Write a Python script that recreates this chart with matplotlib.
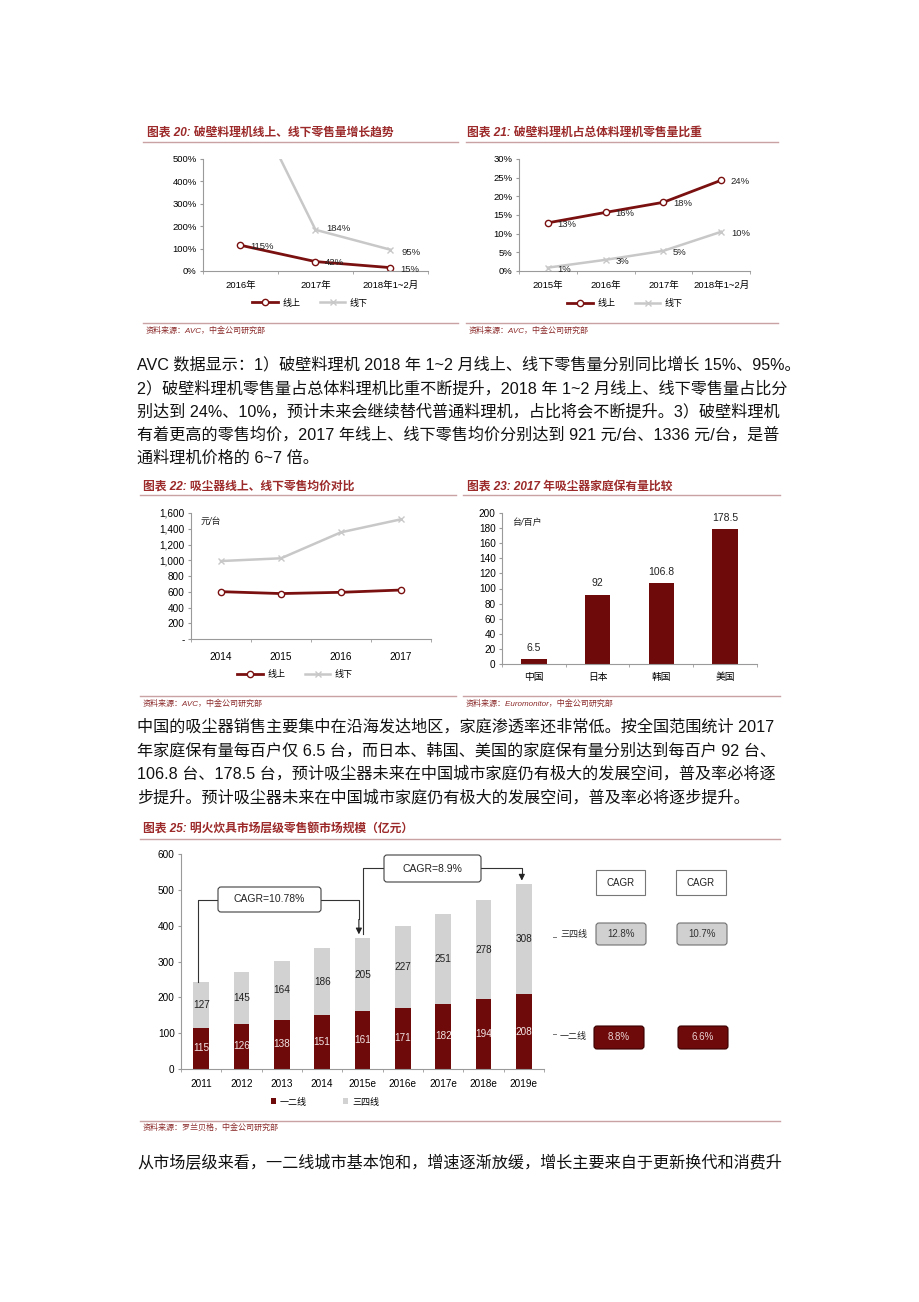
import matplotlib
matplotlib.use('Agg')
import matplotlib.pyplot as plt
import numpy as np
from matplotlib.patches import FancyBboxPatch, Rectangle
from matplotlib.ticker import FuncFormatter

plt.rcParams['font.family'] = ['Liberation Sans', 'Noto Sans CJK SC']

# ---- data ----
c20_cats = ['2016年', '2017年', '2018年1~2月']
c20_online = [115, 42, 15]
c20_offline = [860, 184, 95]

c21_cats = ['2015年', '2016年', '2017年', '2018年1~2月']
c21_online = [12.9, 15.7, 18.4, 24.3]
c21_offline = [0.9, 3.0, 5.4, 10.5]
c21_online_lbl = ['13%', '16%', '18%', '24%']
c21_offline_lbl = ['1%', '3%', '5%', '10%']

c22_years = ['2014', '2015', '2016', '2017']
c22_online = [601, 577, 593, 622]
c22_offline = [990, 1025, 1355, 1520]

c23_countries = ['中国', '日本', '韩国', '美国']
c23_values = [6.5, 92, 106.8, 178.5]

c25_years = ['2011', '2012', '2013', '2014', '2015e', '2016e', '2017e', '2018e', '2019e']
c25_tier12 = [115, 126, 138, 151, 161, 171, 182, 194, 208]
c25_tier34 = [127, 145, 164, 186, 205, 227, 251, 278, 308]
cagr_cols = ['CAGR', 'CAGR']
cagr_34 = ['12.8%', '10.7%']
cagr_12 = ['8.8%', '6.6%']

para1 = [
    'AVC 数据显示：1）破壁料理机 2018 年 1~2 月线上、线下零售量分别同比增长 15%、95%。',
    '2）破壁料理机零售量占总体料理机比重不断提升，2018 年 1~2 月线上、线下零售量占比分',
    '别达到 24%、10%，预计未来会继续替代普通料理机，占比将会不断提升。3）破壁料理机',
    '有着更高的零售均价，2017 年线上、线下零售均价分别达到 921 元/台、1336 元/台，是普',
    '通料理机价格的 6~7 倍。',
]
para2 = [
    '中国的吸尘器销售主要集中在沿海发达地区，家庭渗透率还非常低。按全国范围统计 2017',
    '年家庭保有量每百户仅 6.5 台，而日本、韩国、美国的家庭保有量分别达到每百户 92 台、',
    '106.8 台、178.5 台，预计吸尘器未来在中国城市家庭仍有极大的发展空间，普及率必将逐',
    '步提升。预计吸尘器未来在中国城市家庭仍有极大的发展空间，普及率必将逐步提升。',
]
para3 = ['从市场层级来看，一二线城市基本饱和，增速逐渐放缓，增长主要来自于更新换代和消费升']

RED = '#6E0A0A'
LINE_RED = '#7A1010'
GRAY = '#C8C8C8'
TITLE = '#9C2A2A'
RULE = '#C9A3A3'
AX = '#9A9A9A'

W, H = 920, 1302
fig = plt.figure(figsize=(W / 100, H / 100), dpi=100)


def add_ax(x0, y0, x1, y1):
    return fig.add_axes([x0 / W, 1 - y1 / H, (x1 - x0) / W, (y1 - y0) / H])


def style_ax(ax, n):
    for s in ['top', 'right']:
        ax.spines[s].set_visible(False)
    for s in ['left', 'bottom']:
        ax.spines[s].set_color(AX)
        ax.spines[s].set_linewidth(0.8)
    ax.set_xlim(-0.5, n - 0.5)
    ax.set_xticks(range(n))
    ax.set_xticks(np.arange(-0.5, n), minor=True)
    ax.tick_params(axis='y', length=2.5, color=AX, labelsize=6.8, pad=2)
    ax.tick_params(axis='x', which='major', length=0, labelsize=6.8, pad=7)
    ax.tick_params(axis='x', which='minor', length=2.5, color=AX)


def line_pair(ax, online, offline):
    x = range(len(online))
    ax.plot(x, offline, color=GRAY, lw=1.8, marker='x', ms=4, mew=1, label='线下')
    ax.plot(x, online, color=LINE_RED, lw=2, marker='o', ms=4.5, mfc='white',
            mec=LINE_RED, mew=1, label='线上')


def legend_at(ax, cx, cy):
    h, l = ax.get_legend_handles_labels()
    ax.legend(h[::-1], l[::-1], loc='center', bbox_to_anchor=(cx / W, 1 - cy / H),
              bbox_transform=fig.transFigure, ncol=2, frameon=False, fontsize=6.5,
              handlelength=2.8, columnspacing=2.2, handletextpad=0.5)


# ---- chart 20 ----
ax = add_ax(203, 159, 428, 271)
style_ax(ax, 3)
line_pair(ax, c20_online, c20_offline)
ax.set_ylim(0, 500)
ax.set_yticks(range(0, 501, 100))
ax.yaxis.set_major_formatter(FuncFormatter(lambda v, p: f'{v:.0f}%'))
ax.set_xticklabels(c20_cats)
for i, v in enumerate(c20_online):
    ax.annotate(f'{v}%', (i, v), xytext=(7, -1), textcoords='offset points',
                fontsize=6.8, va='center', color='#222')
for i, v in enumerate(c20_offline):
    if v <= 500:
        ax.annotate(f'{v}%', (i, v), xytext=(8, 1 if i == 1 else -2), textcoords='offset points',
                    fontsize=6.8, va='center', color='#222')
legend_at(ax, 310, 303)

# ---- chart 21 ----
ax = add_ax(519, 159, 750, 271)
style_ax(ax, 4)
line_pair(ax, c21_online, c21_offline)
ax.set_ylim(0, 30)
ax.set_yticks(range(0, 31, 5))
ax.yaxis.set_major_formatter(FuncFormatter(lambda v, p: f'{v:.0f}%'))
ax.set_xticklabels(c21_cats)
for i, (v, s) in enumerate(zip(c21_online, c21_online_lbl)):
    ax.annotate(s, (i, v), xytext=(7, -1), textcoords='offset points', fontsize=6.8, va='center', color='#222')
for i, (v, s) in enumerate(zip(c21_offline, c21_offline_lbl)):
    ax.annotate(s, (i, v), xytext=(7, -1.5), textcoords='offset points', fontsize=6.8, va='center', color='#222')
legend_at(ax, 625, 304)

# ---- chart 22 ----
ax = add_ax(191, 513, 431, 639)
style_ax(ax, 4)
line_pair(ax, c22_online, c22_offline)
ax.set_ylim(0, 1600)
ax.set_yticks(range(0, 1601, 200))
ax.yaxis.set_major_formatter(FuncFormatter(lambda v, p: '-' if v == 0 else f'{v:,.0f}'))
ax.tick_params(axis='y', labelsize=7.2)
ax.tick_params(axis='x', which='major', labelsize=7.2, pad=9)
ax.set_xticklabels(c22_years)
ax.text(0.04, 0.97, '元/台', transform=ax.transAxes, fontsize=6.5, style='italic', va='top', color='#222')
legend_at(ax, 295, 675)

# ---- chart 23 ----
ax = add_ax(502, 513, 757, 664)
style_ax(ax, 4)
ax.bar(range(4), c23_values, width=0.4, color=RED)
ax.set_ylim(0, 200)
ax.set_yticks(range(0, 201, 20))
ax.tick_params(axis='y', labelsize=7.2)
ax.tick_params(axis='x', which='major', labelsize=7, pad=6)
ax.set_xticklabels(c23_countries)
for i, v in enumerate(c23_values):
    ax.annotate(f'{v:g}', (i, v), xytext=(0, 8), textcoords='offset points', ha='center',
                va='center', fontsize=7.5, color='#222')
ax.text(0.04, 0.97, '台/百户', transform=ax.transAxes, fontsize=6.5, style='italic', va='top', color='#222')

# ---- chart 25 ----
ax = add_ax(181, 854, 544, 1069)
style_ax(ax, 9)
x = np.arange(9)
ax.bar(x, c25_tier12, width=0.39, color=RED, label='一二线')
ax.bar(x, c25_tier34, width=0.39, bottom=c25_tier12, color='#D2D2D2', label='三四线')
ax.set_ylim(0, 600)
ax.set_yticks(range(0, 601, 100))
ax.tick_params(axis='y', labelsize=7.2)
ax.tick_params(axis='x', which='major', labelsize=7.2, pad=7)
ax.set_xticklabels(c25_years)
for i in x:
    a, b = c25_tier12[i], c25_tier34[i]
    ax.text(i, a / 2, str(a), ha='center', va='center', fontsize=7.2, color='#F2E4E4')
    ax.text(i, a + b / 2, str(b), ha='center', va='center', fontsize=7.2, color='#222')
tops = [a + b for a, b in zip(c25_tier12, c25_tier34)]
ax.plot([-0.08, -0.08, 3.91, 3.91], [tops[0], 473, 473, 420], color='#333', lw=0.8, clip_on=False)
ax.annotate('', xy=(3.91, tops[4] + 2), xytext=(3.91, 425),
            arrowprops=dict(arrowstyle='-|>', color='#222', lw=0.8, mutation_scale=9))
ax.plot([4.02, 4.02, 7.95, 7.95], [tops[4] + 10, 560, 560, 540], color='#333', lw=0.8, clip_on=False)
ax.annotate('', xy=(7.95, tops[8] + 2), xytext=(7.95, 545),
            arrowprops=dict(arrowstyle='-|>', color='#222', lw=0.8, mutation_scale=9), annotation_clip=False)
ax.legend(loc='center', bbox_to_anchor=(325 / W, 1 - 1102 / H), bbox_transform=fig.transFigure,
          ncol=2, frameon=False, fontsize=6.5, handlelength=0.6, handleheight=0.6,
          columnspacing=4, handletextpad=0.4)

# ---- page overlay (pixel coordinates) ----
ov = fig.add_axes([0, 0, 1, 1], zorder=10)
ov.set_xlim(0, W)
ov.set_ylim(H, 0)
ov.axis('off')


def rule(x0, x1, y):
    ov.plot([x0, x1], [y, y], color=RULE, lw=1)


def title(x, y, s):
    ov.text(x, y, s, fontsize=8.5, color=TITLE, style='italic', fontweight='bold', va='center')


def source(x, y, s):
    ov.text(x, y, s, fontsize=5.8, color='#8B2A2A', style='italic', va='center')


def rbox(x0, y0, x1, y1, s, fc, ec, tc, r=3, fs=7):
    ov.add_patch(FancyBboxPatch((x0, y0), x1 - x0, y1 - y0, boxstyle=f'round,pad=0,rounding_size={r}',
                                fc=fc, ec=ec, lw=0.8))
    ov.text((x0 + x1) / 2, (y0 + y1) / 2, s, ha='center', va='center', fontsize=fs, color=tc)


title(147, 133, '图表 20: 破壁料理机线上、线下零售量增长趋势')
title(467, 133, '图表 21: 破壁料理机占总体料理机零售量比重')
rule(143, 458, 142)
rule(466, 778, 142)
rule(143, 458, 323)
rule(466, 778, 323)
source(146, 331, '资料来源：AVC，中金公司研究部')
source(469, 331, '资料来源：AVC，中金公司研究部')

for i, s in enumerate(para1):
    ov.text(137, 365 + i * 23.3, s, fontsize=11.6, color='#111', va='center')

title(143, 487, '图表 22: 吸尘器线上、线下零售均价对比')
title(467, 487, '图表 23: 2017 年吸尘器家庭保有量比较')
rule(140, 456, 495)
rule(463, 780, 495)
rule(140, 456, 696)
rule(463, 780, 696)
source(143, 704, '资料来源：AVC，中金公司研究部')
source(466, 704, '资料来源：Euromonitor，中金公司研究部')

for i, s in enumerate(para2):
    ov.text(137, 727 + i * 23.5, s, fontsize=11.6, color='#111', va='center')

title(143, 830, '图表 25: 明火炊具市场层级零售额市场规模（亿元）')
rule(140, 780, 839)
rule(140, 780, 1121)
source(143, 1128, '资料来源：罗兰贝格，中金公司研究部')

rbox(218, 887, 321, 912, 'CAGR=10.78%', 'white', '#404040', '#222', fs=7.5)
rbox(384, 855, 481, 882, 'CAGR=8.9%', 'white', '#404040', '#222', fs=7.5)

for (x0, x1), c in zip([(596, 645), (676, 726)], cagr_cols):
    ov.add_patch(Rectangle((x0, 870), x1 - x0, 25, fc='white', ec='#777', lw=0.8))
    ov.text((x0 + x1) / 2, 882.5, c, ha='center', va='center', fontsize=7, color='#222')
for (x0, x1), s in zip([(596, 646), (677, 727)], cagr_34):
    rbox(x0, 923, x1, 945, s, '#D0D0D0', '#707070', '#333')
for (x0, x1), s in zip([(594, 644), (678, 728)], cagr_12):
    rbox(x0, 1026, x1, 1049, s, RED, '#3A0000', '#EAD3D3')
ov.text(574, 934, '三四线', ha='center', va='center', fontsize=6.5, color='#222')
ov.text(573, 1036, '一二线', ha='center', va='center', fontsize=6.5, color='#222')
ov.plot([553, 556], [937, 937], color='#777', lw=0.7)
ov.plot([553, 556], [1034, 1034], color='#777', lw=0.7)

ov.text(137, 1163, para3[0], fontsize=11.6, color='#111', va='center')

fig.savefig('out.png', dpi=100)
